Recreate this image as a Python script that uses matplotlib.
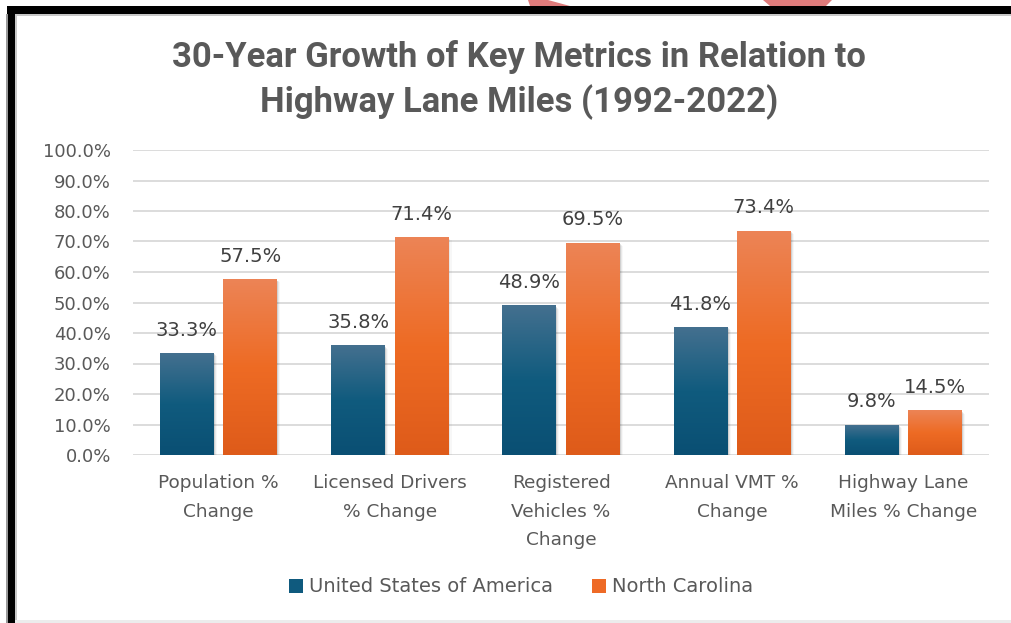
import numpy as np
import matplotlib
matplotlib.use("Agg")
import matplotlib.pyplot as plt
from matplotlib import font_manager as fm
from matplotlib.patches import Rectangle, Polygon, Patch
from matplotlib.colors import LinearSegmentedColormap

# ---- data ----
categories = ["Population %\nChange", "Licensed Drivers\n% Change",
              "Registered\nVehicles %\nChange", "Annual VMT %\nChange",
              "Highway Lane\nMiles % Change"]
usa_values = [33.3, 35.8, 48.9, 41.8, 9.8]
nc_values = [57.5, 71.4, 69.5, 73.4, 14.5]
series_names = ["United States of America", "North Carolina"]
yticks = list(range(0, 101, 10))
title = "30-Year Growth of Key Metrics in Relation to\nHighway Lane Miles (1992-2022)"

W, H = 1011, 623
fig = plt.figure(figsize=(W / 100, H / 100), dpi=100)
fig.patch.set_facecolor("white")

def fx(px):
    return px / W

def fy(py):
    return 1 - py / H

BODY = "DejaVu Sans"
TXT = "#595959"

# axes: left 133px, right 989px, y 0%->455px, 100%->150px
ax = fig.add_axes([fx(133), fy(455), fx(989) - fx(133), (455 - 150) / H])
ax.set_xlim(-0.5, len(categories) - 0.5)
ax.set_ylim(0, 100)
ax.set_yticks(yticks)
ax.set_yticklabels([f"{t:.1f}%" for t in yticks], fontsize=13, color=TXT, family=BODY)
ax.yaxis.grid(True, color="#d9d9d9", lw=1.3, zorder=0)
ax.set_axisbelow(True)
for s in ax.spines.values():
    s.set_visible(False)
ax.tick_params(axis="y", length=0, pad=16)
ax.tick_params(axis="x", length=0, pad=14)
x = np.arange(len(categories))
ax.set_xticks(x)
ax.set_xticklabels(categories, fontsize=13.3, color=TXT, family=BODY, linespacing=1.72)

width = 0.315
off = 0.185
blue_cmap = LinearSegmentedColormap.from_list("b", ["#0a4f73", "#105b7e", "#44708f"])
orange_cmap = LinearSegmentedColormap.from_list("o", ["#de5b1a", "#ee6b24", "#ec8456"])
grad = np.linspace(0, 1, 256).reshape(-1, 1)

def draw_bars(vals, dx, cmap):
    for xi, v in zip(x, vals):
        x0 = xi + dx - width / 2
        for k, a in enumerate([0.10, 0.06, 0.03]):
            sh = Rectangle((x0 + 0.006 * (k + 1), -0.3 * (k + 1)), width, v,
                           facecolor="#000000", alpha=a, lw=0, zorder=2)
            ax.add_patch(sh)
        ax.imshow(grad, cmap=cmap, extent=[x0, x0 + width, 0, v], origin="lower",
                  aspect="auto", zorder=3, interpolation="bilinear")
        ax.text(xi + dx, v + 7.6, f"{v:.1f}%", ha="center", va="center",
                fontsize=14, color="#404040", family=BODY, zorder=4)

draw_bars(usa_values, -off, blue_cmap)
draw_bars(nc_values, off, orange_cmap)
ax.set_xlim(-0.5, len(categories) - 0.5)
ax.set_ylim(0, 100)

# title (bold sans, first line fitted to ~694 px width)
tfp = fm.FontProperties(family=["Roboto", "DejaVu Sans"], weight="bold", size=22)
ttl = fig.text(fx(519), fy(80), title, ha="center", va="center",
               fontproperties=tfp, color=TXT, linespacing=1.4)
probe = fig.text(0, 0, title.split("\n")[0], fontproperties=tfp)
fig.canvas.draw()
wpx = probe.get_window_extent().width
probe.remove()
size = max(18, min(26, 22 * 694 / wpx))
tfp.set_size(size)
ttl.set_fontproperties(tfp)

# legend
handles = [Patch(facecolor="#0f5a7e", edgecolor="none"),
           Patch(facecolor="#ee6a26", edgecolor="none")]
leg = fig.legend(handles, series_names, loc="center", bbox_to_anchor=(fx(521), fy(587)),
                 ncol=2, frameon=False, handlelength=0.75, handleheight=0.75,
                 handletextpad=0.3, columnspacing=2.0,
                 prop={"family": BODY, "size": 14})
for t in leg.get_texts():
    t.set_color(TXT)

# screenshot frame decorations
def prect(x0, y0, x1, y1, **kw):
    fig.add_artist(Rectangle((fx(x0), fy(y1)), fx(x1) - fx(x0), (y1 - y0) / H,
                             transform=fig.transFigure, **kw))

prect(0, 0, W, 6, facecolor="white", lw=0)
fig.add_artist(Polygon([(fx(528), fy(0)), (fx(548), fy(0)), (fx(570), fy(6)), (fx(530), fy(6))],
                       closed=True, transform=fig.transFigure, facecolor="#e07c7c", lw=0))
fig.add_artist(Polygon([(fx(763), fy(0)), (fx(832), fy(0)), (fx(826), fy(6)), (fx(770), fy(6))],
                       closed=True, transform=fig.transFigure, facecolor="#e07c7c", lw=0))
prect(7, 14, W, 16, facecolor="#c8c8c8", lw=0)
prect(15, 14, 17, H, facecolor="#c8c8c8", lw=0)
prect(6, 14, 8, H, facecolor="#9a9a9a", lw=0)
prect(7, 6, W, 14, facecolor="black", lw=0)
prect(8, 6, 15, H, facecolor="black", lw=0)
prect(15, 620, W, H, facecolor="#ececec", lw=0)

fig.savefig("out.png", dpi=100, facecolor="white")
